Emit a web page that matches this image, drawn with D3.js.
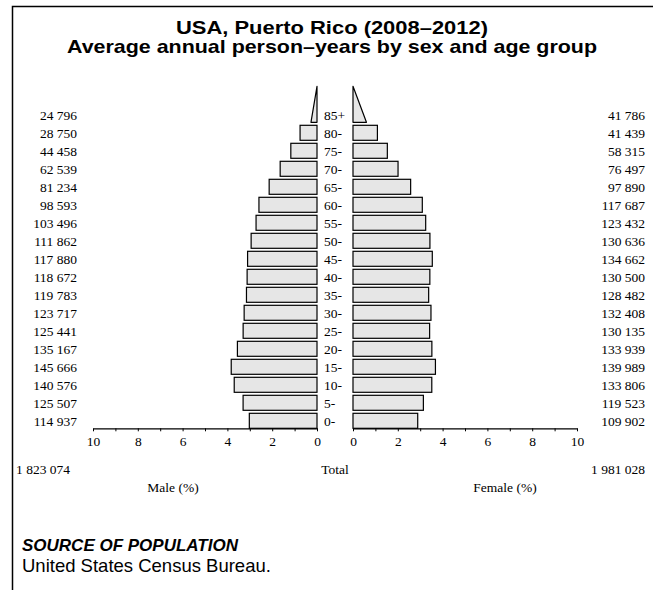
<!DOCTYPE html>
<html><head><meta charset="utf-8">
<script src="https://cdn.jsdelivr.net/npm/d3@7"></script>
<style>html,body{margin:0;padding:0;background:#fff;}svg{display:block;}</style>
</head><body>
<script>
const ages = ["0-","5-","10-","15-","20-","25-","30-","35-","40-","45-","50-","55-","60-","65-","70-","75-","80-","85+"];
const male = [114937,125507,140576,145666,135167,125441,123717,119783,118672,117880,111862,103496,98593,81234,62539,44458,28750,24796];
const female = [109902,119523,133806,139989,133939,130135,132408,128482,130500,134662,130636,123432,117687,97890,76497,58315,41439,41786];
// estimated base width (%) of the open-ended 85+ triangles [male, female]
const openEndedBase = [0.27, 0.60];
const xTicks = [0,1,2,3,4,5,6,7,8,9,10];
const titleLines = ["USA, Puerto Rico (2008\u20132012)", "Average annual person\u2013years by sex and age group"];

(function(){
const W = 653, H = 590;
const svg = d3.select("body").append("svg").attr("width", W).attr("height", H);
const serif = "'Liberation Serif','Times New Roman',serif";
const sans = "'Liberation Sans',Arial,Helvetica,sans-serif";

// frame
svg.append("path").attr("d", `M12.5,${H} L12.5,6.5 L${W},6.5`).attr("fill","none").attr("stroke","#000").attr("stroke-width",1.5);

// title
const titleLen = [312, 530];
svg.selectAll("text.title").data(titleLines).join("text").attr("class","title")
  .attr("x", 332).attr("y", (d,i)=>33.5+i*19).attr("text-anchor","middle")
  .attr("textLength", (d,i)=>titleLen[i]).attr("lengthAdjust","spacingAndGlyphs")
  .attr("font-family", sans).attr("font-weight","bold").attr("font-size","19px").text(d=>d);

const total = d3.sum(male) + d3.sum(female);
const fmt = v => d3.format(",")(v).replace(/,/g," ");

const xm = d3.scaleLinear().domain([0,10]).range([317,93]);
const xf = d3.scaleLinear().domain([0,10]).range([353,577]);
const y = d3.scaleBand().domain(ages.slice().reverse()).range([105.8,429.8]).paddingInner(1/6).paddingOuter(1/12);
const bw = y.bandwidth();
const axisY = 428.3;

const barsData = ages.map((a,i)=>({age:a, m:male[i]/total*100, f:female[i]/total*100, mv:male[i], fv:female[i]}));
const regular = barsData.filter(d=>d.age!=="85+");

const g = svg.append("g");
g.selectAll("rect.m").data(regular).join("rect").attr("class","m")
  .attr("x", d=>xm(d.m)).attr("y", d=>y(d.age)).attr("width", d=>xm(0)-xm(d.m)).attr("height", bw)
  .attr("fill","#e6e6e6").attr("stroke","#000").attr("stroke-width",1.2);
g.selectAll("rect.f").data(regular).join("rect").attr("class","f")
  .attr("x", xf(0)).attr("y", d=>y(d.age)).attr("width", d=>xf(d.f)-xf(0)).attr("height", bw)
  .attr("fill","#e6e6e6").attr("stroke","#000").attr("stroke-width",1.2);

// open-ended triangles
const yb = y("85+") + bw, yt = yb - 2*y.step();
g.append("path").attr("d", `M${xm(0)},${yb} L${xm(openEndedBase[0])},${yb} L${xm(0)},${yt} Z`)
  .attr("fill","#e6e6e6").attr("stroke","#000").attr("stroke-width",1.2).attr("stroke-linejoin","round");
g.append("path").attr("d", `M${xf(0)},${yb} L${xf(openEndedBase[1])},${yb} L${xf(0)},${yt} Z`)
  .attr("fill","#e6e6e6").attr("stroke","#000").attr("stroke-width",1.2).attr("stroke-linejoin","round");

// axes
function styleAxis(sel){
  sel.select(".domain").attr("stroke","#000").attr("stroke-width",1.2);
  sel.selectAll(".tick line").attr("stroke","#000");
  sel.selectAll(".tick text").attr("font-family", serif).attr("font-size","13.5px").attr("fill","#000").attr("dy","0.9em");
}
const tf = d => d%2===0 ? d : "";
svg.append("g").attr("transform",`translate(0,${axisY})`)
  .call(d3.axisBottom(xm).tickValues(xTicks).tickFormat(tf).tickSize(3).tickSizeOuter(0)).call(styleAxis);
svg.append("g").attr("transform",`translate(0,${axisY})`)
  .call(d3.axisBottom(xf).tickValues(xTicks).tickFormat(tf).tickSize(3).tickSizeOuter(0)).call(styleAxis);

// labels
const lab = svg.append("g").attr("font-family", serif).attr("font-size","13.5px").attr("fill","#000");
lab.selectAll("text.ml").data(barsData).join("text").attr("class","ml")
  .attr("x", 77).attr("y", d=>y(d.age)+bw/2).attr("dy","0.35em").attr("text-anchor","end").text(d=>fmt(d.mv));
lab.selectAll("text.fl").data(barsData).join("text").attr("class","fl")
  .attr("x", 645).attr("y", d=>y(d.age)+bw/2).attr("dy","0.35em").attr("text-anchor","end").text(d=>fmt(d.fv));
lab.selectAll("text.al").data(barsData).join("text").attr("class","al")
  .attr("x", 324).attr("y", d=>y(d.age)+bw/2).attr("dy","0.35em").text(d=>d.age);

lab.append("text").attr("x",16).attr("y",474).text(fmt(d3.sum(male)));
lab.append("text").attr("x",645).attr("y",474).attr("text-anchor","end").text(fmt(d3.sum(female)));
lab.append("text").attr("x",335).attr("y",474).attr("text-anchor","middle").text("Total");
lab.append("text").attr("x",173).attr("y",492).attr("text-anchor","middle").text("Male (%)");
lab.append("text").attr("x",505).attr("y",492).attr("text-anchor","middle").text("Female (%)");

// source
svg.append("text").attr("x",22).attr("y",551).attr("font-family",sans).attr("font-weight","bold").attr("font-style","italic").attr("font-size","17px").text("SOURCE OF POPULATION");
svg.append("text").attr("x",22).attr("y",572).attr("font-family",sans).attr("font-size","18.5px").text("United States Census Bureau.");
})();
</script>
</body></html>
